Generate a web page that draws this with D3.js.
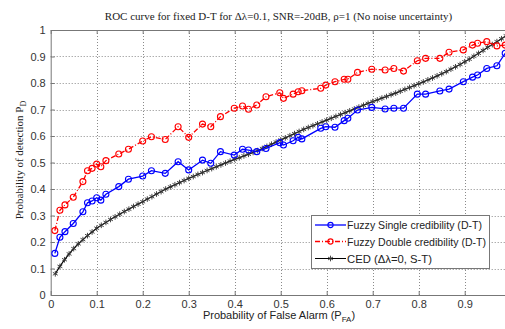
<!DOCTYPE html>
<html>
<head>
<meta charset="utf-8">
<script src="https://cdn.jsdelivr.net/npm/d3@7"></script>
<style>
  body { margin: 0; background: #fff; }
  svg { display: block; }
  .axis path, .axis line { stroke: #777; }
  .axis text { font-family: "Liberation Sans", Arial, sans-serif; font-size: 11px; fill: #333; }
</style>
</head>
<body>
<div id="canvas"></div>
<script>
// ROC curves
var pfa = [0.009, 0.02, 0.031, 0.049, 0.07, 0.08, 0.09, 0.1, 0.109, 0.12, 0.148, 0.169, 0.2, 0.219, 0.249,
  0.277, 0.3, 0.33, 0.348, 0.369, 0.399, 0.417, 0.43, 0.448, 0.468, 0.498, 0.506, 0.527, 0.538, 0.546,
  0.587, 0.598, 0.618, 0.638, 0.646, 0.667, 0.698, 0.727, 0.746, 0.767, 0.797, 0.815, 0.846, 0.866,
  0.897, 0.917, 0.928, 0.948, 0.97, 0.988];

var singleCred = [0.157, 0.218, 0.239, 0.27, 0.314, 0.348, 0.355, 0.367, 0.358, 0.38, 0.409, 0.437, 0.449,
  0.469, 0.459, 0.503, 0.472, 0.509, 0.497, 0.541, 0.528, 0.55, 0.547, 0.541, 0.553, 0.575, 0.566, 0.582,
  0.595, 0.589, 0.629, 0.635, 0.633, 0.658, 0.667, 0.698, 0.708, 0.702, 0.705, 0.705, 0.758, 0.758, 0.77,
  0.777, 0.805, 0.822, 0.83, 0.855, 0.865, 0.912];

var doubleCred = [0.243, 0.32, 0.34, 0.369, 0.428, 0.469, 0.478, 0.494, 0.484, 0.507, 0.532, 0.55, 0.581,
  0.597, 0.587, 0.635, 0.595, 0.645, 0.635, 0.673, 0.705, 0.713, 0.701, 0.717, 0.748, 0.763, 0.742, 0.758,
  0.767, 0.771, 0.78, 0.792, 0.805, 0.814, 0.814, 0.84, 0.852, 0.849, 0.855, 0.845, 0.884, 0.893, 0.893,
  0.916, 0.925, 0.943, 0.95, 0.956, 0.94, 0.943];

var cedPfa = [0.01, 0.02, 0.03, 0.04, 0.05, 0.06, 0.07, 0.08, 0.09, 0.10, 0.11, 0.12, 0.13, 0.14, 0.15,
  0.16, 0.17, 0.18, 0.19, 0.20, 0.21, 0.22, 0.23, 0.24, 0.25, 0.26, 0.27, 0.28, 0.29, 0.30, 0.31, 0.32,
  0.33, 0.34, 0.35, 0.36, 0.37, 0.38, 0.39, 0.40, 0.41, 0.42, 0.43, 0.44, 0.45, 0.46, 0.47, 0.48, 0.49,
  0.50, 0.51, 0.52, 0.53, 0.54, 0.55, 0.56, 0.57, 0.58, 0.59, 0.60, 0.61, 0.62, 0.63, 0.64, 0.65, 0.66,
  0.67, 0.68, 0.69, 0.70, 0.71, 0.72, 0.73, 0.74, 0.75, 0.76, 0.77, 0.78, 0.79, 0.80, 0.81, 0.82, 0.83,
  0.84, 0.85, 0.86, 0.87, 0.88, 0.89, 0.90, 0.91, 0.92, 0.93, 0.94, 0.95, 0.96, 0.97, 0.98, 0.99];

var ced = [0.080, 0.108, 0.133, 0.155, 0.175, 0.193, 0.209, 0.224, 0.238, 0.252, 0.263, 0.274, 0.285,
  0.295, 0.305, 0.315, 0.324, 0.334, 0.343, 0.352, 0.362, 0.371, 0.381, 0.390, 0.400, 0.408, 0.416,
  0.424, 0.432, 0.440, 0.447, 0.455, 0.462, 0.470, 0.477, 0.484, 0.491, 0.498, 0.505, 0.512, 0.518,
  0.525, 0.531, 0.538, 0.545, 0.553, 0.561, 0.569, 0.577, 0.585, 0.593, 0.601, 0.609, 0.617, 0.625,
  0.632, 0.639, 0.646, 0.653, 0.660, 0.667, 0.674, 0.681, 0.688, 0.695, 0.702, 0.709, 0.716, 0.723,
  0.730, 0.736, 0.743, 0.749, 0.756, 0.762, 0.769, 0.776, 0.783, 0.790, 0.797, 0.804, 0.812, 0.819,
  0.827, 0.835, 0.843, 0.852, 0.861, 0.870, 0.880, 0.890, 0.901, 0.912, 0.923, 0.935, 0.945, 0.956,
  0.967, 0.978];

var xTicks = [0, 0.1, 0.2, 0.3, 0.4, 0.5, 0.6, 0.7, 0.8, 0.9, 1];
var yTicks = [0, 0.1, 0.2, 0.3, 0.4, 0.5, 0.6, 0.7, 0.8, 0.9, 1];

var legendNames = ["Fuzzy Single credibility (D-T)", "Fuzzy Double credibility (D-T)", "CED (\u0394\u03bb=0, S-T)"];

var W = 505, H = 329;
var m = { left: 50.7, right: 510.7, top: 30, bottom: 295 };

var svg = d3.select("#canvas").append("svg")
  .attr("width", W)
  .attr("height", H);

var x = d3.scaleLinear().domain([0, 1]).range([m.left, m.right]);
var y = d3.scaleLinear().domain([0, 1]).range([m.bottom, m.top]);

// dotted grid
var grid = svg.append("g").attr("stroke", "#8a8a8a").attr("stroke-dasharray", "1,2").attr("stroke-width", 1);
grid.selectAll(".gx").data(xTicks.slice(1, -1)).enter().append("line")
  .attr("x1", function(d) { return Math.round(x(d)) + 0.5; })
  .attr("x2", function(d) { return Math.round(x(d)) + 0.5; })
  .attr("y1", m.top).attr("y2", m.bottom);
grid.selectAll(".gy").data(yTicks.slice(1, -1)).enter().append("line")
  .attr("y1", function(d) { return Math.round(y(d)) + 0.5; })
  .attr("y2", function(d) { return Math.round(y(d)) + 0.5; })
  .attr("x1", m.left).attr("x2", m.right);

// axes, ticks pointing inwards like matlab
var fmt = function(d) { return d3.format("~g")(d); };
// the "1" label on x sits past the right edge of the picture
var fmtX = function(d) { return d === 1 ? "" : fmt(d); };

svg.append("g").attr("class", "axis")
  .attr("transform", "translate(0," + m.bottom + ")")
  .call(d3.axisBottom(x).tickValues(xTicks).tickSizeInner(-4).tickSizeOuter(0).tickPadding(5).tickFormat(fmtX));
svg.append("g").attr("class", "axis")
  .attr("transform", "translate(0," + m.top + ")")
  .call(d3.axisTop(x).tickValues(xTicks).tickSizeInner(-4).tickSizeOuter(0).tickFormat(""));
svg.append("g").attr("class", "axis")
  .attr("transform", "translate(" + m.left + ",0)")
  .call(d3.axisLeft(y).tickValues(yTicks).tickSizeInner(-4).tickSizeOuter(0).tickPadding(5).tickFormat(fmt));

var plot = svg.append("g");

var line = d3.line()
  .x(function(d) { return x(d[0]); })
  .y(function(d) { return y(d[1]); });

var cedPts = cedPfa.map(function(v, i) { return [v, ced[i]]; });
var singlePts = pfa.map(function(v, i) { return [v, singleCred[i]]; });
var doublePts = pfa.map(function(v, i) { return [v, doubleCred[i]]; });

// CED
plot.append("path").datum(cedPts)
  .attr("fill", "none").attr("stroke", "#000").attr("stroke-width", 1.2)
  .attr("d", line);
var star = d3.symbol().type(d3.symbolAsterisk).size(22);
plot.selectAll(".ced").data(cedPts).enter().append("path")
  .attr("transform", function(d) { return "translate(" + x(d[0]) + "," + y(d[1]) + ")"; })
  .attr("d", star)
  .attr("fill", "none").attr("stroke", "#333").attr("stroke-width", 0.9);

// single credibility
plot.append("path").datum(singlePts)
  .attr("fill", "none").attr("stroke", "#0000ff").attr("stroke-width", 1.3)
  .attr("d", line);
plot.selectAll(".sc").data(singlePts).enter().append("circle")
  .attr("cx", function(d) { return x(d[0]); })
  .attr("cy", function(d) { return y(d[1]); })
  .attr("r", 3)
  .attr("fill", "none").attr("stroke", "#0000ff").attr("stroke-width", 1.1);

// double credibility
plot.append("path").datum(doublePts)
  .attr("fill", "none").attr("stroke", "#ff0000").attr("stroke-width", 1.3)
  .attr("stroke-dasharray", "5,2,1,2")
  .attr("d", line);
plot.selectAll(".dc").data(doublePts).enter().append("circle")
  .attr("cx", function(d) { return x(d[0]); })
  .attr("cy", function(d) { return y(d[1]); })
  .attr("r", 3)
  .attr("fill", "none").attr("stroke", "#ff0000").attr("stroke-width", 1.1);

// title
svg.append("text")
  .attr("x", 278.5).attr("y", 20)
  .attr("text-anchor", "middle")
  .style("font-family", "'Liberation Serif', 'Times New Roman', serif")
  .style("font-size", "11px")
  .attr("fill", "#222")
  .text("ROC curve for fixed D-T for \u0394\u03bb=0.1, SNR=-20dB, \u03c1=1 (No noise uncertainty)");

// x label
var xl = svg.append("text")
  .attr("x", 279).attr("y", 319)
  .attr("text-anchor", "middle")
  .style("font-family", "'Liberation Sans', Arial, sans-serif")
  .style("font-size", "11px")
  .attr("fill", "#222");
xl.append("tspan").text("Probability of False Alarm (P");
xl.append("tspan").attr("dy", 3).style("font-size", "8px").text("FA");
xl.append("tspan").attr("dy", -3).text(")");

// y label
var yl = svg.append("text")
  .attr("transform", "translate(23,160) rotate(-90)")
  .attr("text-anchor", "middle")
  .style("font-family", "'Liberation Serif', 'Times New Roman', serif")
  .style("font-size", "11px")
  .attr("fill", "#222");
yl.append("tspan").text("Probability of detection P");
yl.append("tspan").attr("dy", 3).style("font-size", "8px").text("D");

// legend
var lg = svg.append("g");
lg.append("rect")
  .attr("x", 311.5).attr("y", 215.5).attr("width", 178).attr("height", 53)
  .attr("fill", "#fff").attr("stroke", "#777").attr("stroke-width", 1);

var rowsY = [225, 241.5, 258.5];
var legendWidths = [135, 139, 85];
var legendStyles = [
  { color: "#0000ff", dash: null, mark: "circle" },
  { color: "#ff0000", dash: "5,2,1,2", mark: "circle" },
  { color: "#000", dash: null, mark: "star" }
];

legendNames.forEach(function(name, i) {
  var st = legendStyles[i];
  var ly = rowsY[i];
  lg.append("line")
    .attr("x1", 315).attr("x2", 346).attr("y1", ly).attr("y2", ly)
    .attr("stroke", st.color).attr("stroke-width", st.mark === "star" ? 1 : 1.3)
    .attr("stroke-dasharray", st.dash);
  if (st.mark === "circle") {
    lg.append("circle").attr("cx", 330.5).attr("cy", ly).attr("r", 2.6)
      .attr("fill", "none").attr("stroke", st.color).attr("stroke-width", 1.1);
  } else {
    lg.append("path").attr("transform", "translate(330.5," + ly + ")")
      .attr("d", star).attr("fill", "none").attr("stroke", "#333").attr("stroke-width", 0.9);
  }
  lg.append("text")
    .attr("x", 347).attr("y", ly + 4)
    .attr("textLength", legendWidths[i])
    .attr("lengthAdjust", "spacingAndGlyphs")
    .style("font-family", "'Liberation Sans', Arial, sans-serif")
    .style("font-size", "11px")
    .attr("fill", "#222")
    .text(name);
});
</script>
</body>
</html>
